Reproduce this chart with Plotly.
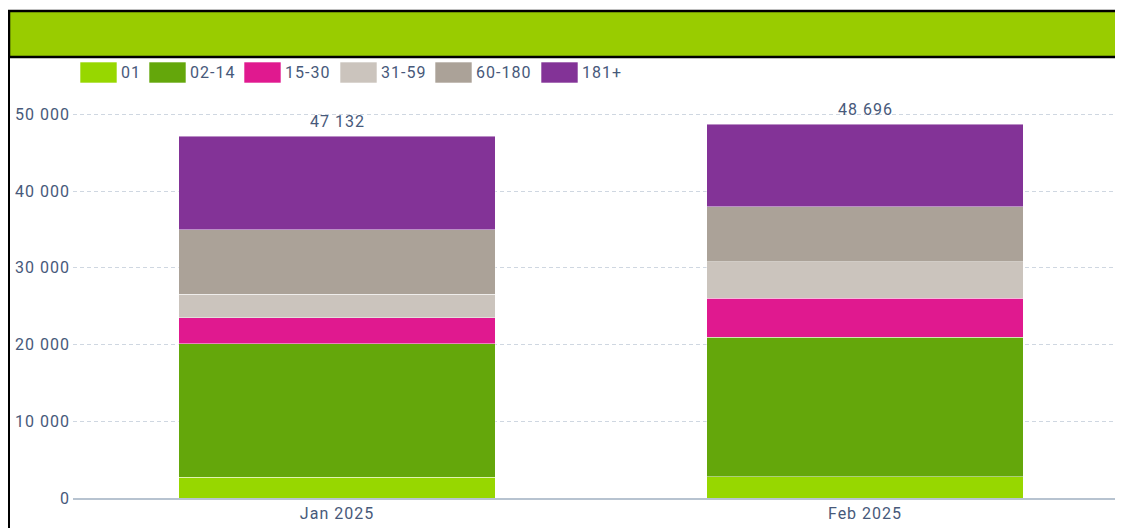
import plotly.graph_objects as go

# ---- data ----
categories = ["Jan 2025", "Feb 2025"]
series_names = ["01", "02-14", "15-30", "31-59", "60-180", "181+"]
s_01 = [2730, 2770]
s_02_14 = [17360, 18190]
s_15_30 = [3390, 5080]
s_31_59 = [3040, 4730]
s_60_180 = [8460, 7210]
s_181 = [12152, 10716]
totals = [47132, 48696]
y_ticks = [0, 10000, 20000, 30000, 40000, 50000]

# ---- style ----
colors = ["#97D700", "#64A70B", "#E0198F", "#CBC4BD", "#ABA298", "#833397"]
TXT = "#47597a"
FONT = "Roboto"
OFF = 8  # page body margin
W, H = 1123 - OFF, 528 - OFF
# plot area in page pixels
PL, PR, PT, PB = 73, 1123, 110, 498
PX_PER_UNIT = 76.75 / 10000
Y_TOP = (PB - PT) / PX_PER_UNIT


def px_x(px):
    return (px - PL) / (PR - PL)


def px_y(py):
    return (PB - py) / (PB - PT)


def spaced(s):
    return f'<span style="letter-spacing:1px">{s}</span>'


def fmt(v):
    return f"{v:,}".replace(",", " ")


series = [s_01, s_02_14, s_15_30, s_31_59, s_60_180, s_181]

fig = go.Figure()
for name, vals, col in zip(series_names, series, colors):
    fig.add_trace(go.Bar(
        x=categories, y=vals, name=name, showlegend=False,
        marker=dict(color=col, line=dict(color="rgba(255,255,255,0.45)", width=1)),
        width=0.6,
    ))

# totals above bars
for c, t in zip(categories, totals):
    fig.add_annotation(x=c, y=t, text=spaced(fmt(t)), showarrow=False,
                       yanchor="bottom", yshift=3,
                       font=dict(family=FONT, size=16, color=TXT))

shapes = []
# header band
shapes.append(dict(type="rect", xref="paper", yref="paper",
                   x0=px_x(9), x1=px_x(1140), y0=px_y(57), y1=px_y(11),
                   fillcolor="#99CC00", line=dict(color="black", width=2.5), layer="above"))
# left border
shapes.append(dict(type="line", xref="paper", yref="paper",
                   x0=px_x(9), x1=px_x(9), y0=px_y(57), y1=px_y(540),
                   line=dict(color="black", width=2)))

# custom legend
legend_x = [80, 149, 244, 340, 435, 541]
for name, col, lx in zip(series_names, colors, legend_x):
    shapes.append(dict(type="rect", xref="paper", yref="paper",
                       x0=px_x(lx), x1=px_x(lx + 37), y0=px_y(83), y1=px_y(62),
                       fillcolor=col, line=dict(color="rgba(255,255,255,0.6)", width=1)))
    fig.add_annotation(xref="paper", yref="paper", x=px_x(lx + 39), y=px_y(72.5),
                       text=spaced(name), showarrow=False, xanchor="left", yanchor="middle",
                       font=dict(family=FONT, size=16, color=TXT))

fig.update_layout(
    width=W, height=H,
    margin=dict(l=PL - OFF, r=1123 - PR, t=PT - OFF, b=528 - PB, pad=0),
    paper_bgcolor="white", plot_bgcolor="white",
    barmode="stack",
    shapes=shapes,
    font=dict(family=FONT, size=16, color=TXT),
    showlegend=False,
)
fig.update_xaxes(
    range=[-0.5, 1 + (PR - 865) / 528],
    tickvals=categories, ticktext=[spaced(c) for c in categories],
    showgrid=False, showline=True, linecolor="#b7c3d0", linewidth=1.5,
    ticks="", tickfont=dict(family=FONT, size=16, color=TXT),
)
fig.update_yaxes(
    range=[0, Y_TOP],
    tickvals=y_ticks, ticktext=[spaced(fmt(v)) for v in y_ticks],
    showgrid=True, gridcolor="#cfd7e1", griddash="4px,3px", gridwidth=1,
    zeroline=False, showline=False, ticks="",
    ticklabelstandoff=2,
    tickfont=dict(family=FONT, size=16, color=TXT),
)

fig.write_html("out.html")
